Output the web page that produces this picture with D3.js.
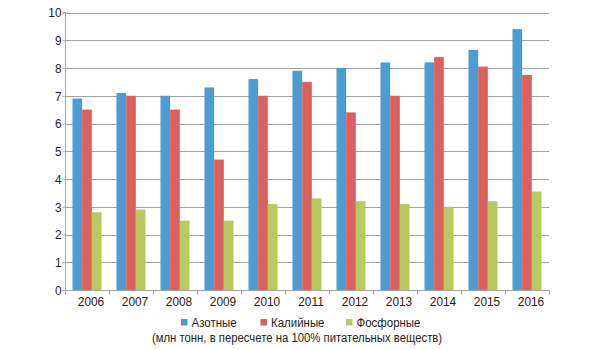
<!DOCTYPE html>
<html><head><meta charset="utf-8">
<script src="https://cdn.jsdelivr.net/npm/d3@7"></script>
<style>
html,body{margin:0;padding:0;background:#fff;}
svg text{font-family:"Liberation Sans",Arial,sans-serif;fill:#1e1e1e;}
</style></head>
<body><svg id="c" width="603" height="350"></svg>
<script>
const years = ["2006","2007","2008","2009","2010","2011","2012","2013","2014","2015","2016"];
const seriesNames = ["Азотные","Калийные","Фосфорные"];
const azot = [6.9,7.1,7.0,7.3,7.6,7.9,8.0,8.2,8.2,8.65,9.4];
const kali = [6.5,7.0,6.5,4.7,7.0,7.5,6.4,7.0,8.4,8.05,7.75];
const fosf = [2.8,2.9,2.5,2.5,3.1,3.3,3.2,3.1,3.0,3.2,3.55];
const yTicks = [0,1,2,3,4,5,6,7,8,9,10];
const colors = ["#4a9cd2","#dc605d","#b7ca62"];
const subtitle = "(млн тонн, в пересчете на 100% питательных веществ)";

const seriesData = [azot,kali,fosf];
const svg = d3.select("#c");
const L=65,R=549,T=12.5,B=290;
const x = d3.scaleBand().domain(years).range([L,R]).paddingInner(0.34).paddingOuter(0.17);
const xs = d3.scaleBand().domain(d3.range(3)).range([0,x.bandwidth()]);
const y = d3.scaleLinear().domain([0,10]).range([B,T]);

function txt(parent, tx, ty, s, anchor, sx, fs){
  return parent.append("text").attr("transform",`translate(${tx},${ty}) scale(${sx},1)`)
    .attr("text-anchor",anchor||"start").attr("font-size",fs||13.5).text(s);
}

// grid
svg.append("g").selectAll("line").data(yTicks.filter(d=>d>0)).join("line")
  .attr("x1",L).attr("x2",R).attr("y1",d=>Math.round(y(d))+0.5).attr("y2",d=>Math.round(y(d))+0.5)
  .attr("stroke","#a3a3a3").attr("stroke-width",1);

// bars
const g = svg.append("g");
years.forEach((yr,i)=>{
  seriesData.forEach((s,j)=>{
    g.append("rect").attr("x",x(yr)+xs(j)).attr("width",xs.bandwidth())
      .attr("y",y(s[i])).attr("height",B-y(s[i])).attr("fill",colors[j]);
  });
});

// y axis
const ya = svg.append("g").attr("transform",`translate(${L+0.5},0)`)
  .call(d3.axisLeft(y).tickValues(yTicks).tickSize(3).tickPadding(2).tickFormat(d3.format("d")));
ya.select(".domain").attr("stroke","#a3a3a3").attr("d",`M-3,${T}H0V${B}`);
ya.selectAll(".tick line").attr("stroke","#a3a3a3");
ya.selectAll("text").attr("font-size",13.5).attr("fill","#1e1e1e").attr("x",0)
  .attr("transform",`translate(-4,0) scale(0.88,1)`);

// x axis
const xa = svg.append("g").attr("transform",`translate(0,${Math.round(B)+0.5})`);
xa.append("line").attr("x1",L).attr("x2",R).attr("stroke","#a3a3a3");
const bounds = d3.range(years.length+1).map(i=>L+i*(R-L)/years.length);
xa.selectAll(".tk").data(bounds).join("line").attr("class","tk")
  .attr("x1",d=>Math.round(d)+0.5).attr("x2",d=>Math.round(d)+0.5).attr("y1",0).attr("y2",4).attr("stroke","#a3a3a3");
years.forEach(d=>txt(xa, x(d)+x.bandwidth()/2+4, 15, d, "middle", 0.88));

// legend
const lg = svg.append("g");
const lx = [181,260.5,346];
seriesNames.forEach((n,j)=>{
  lg.append("rect").attr("x",lx[j]).attr("y",319).attr("width",6.5).attr("height",6.5).attr("fill",colors[j]);
  txt(lg, lx[j]+10.5, 327, n, "start", 0.85);
});
txt(svg, 297, 341.5, subtitle, "middle", 0.84);
</script></body></html>
